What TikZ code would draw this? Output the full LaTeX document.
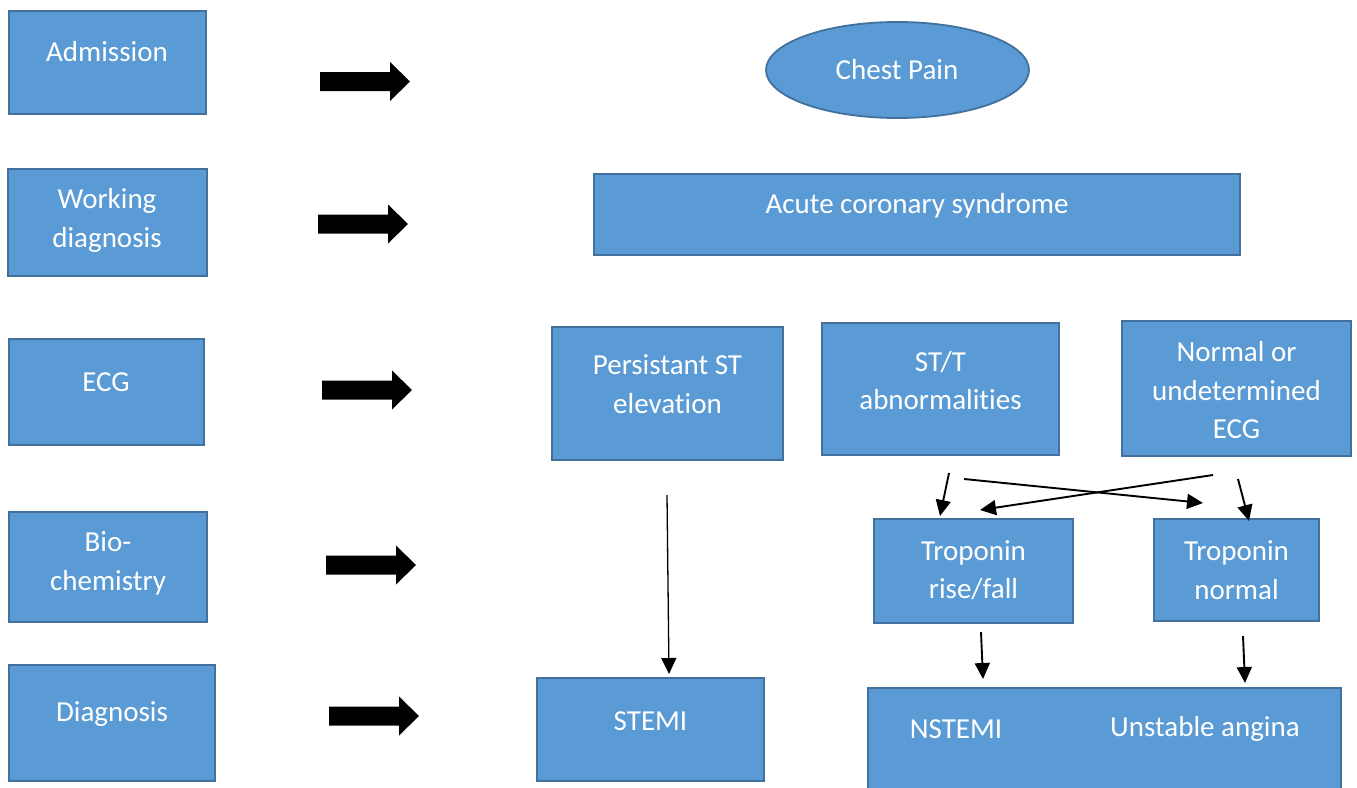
\documentclass[tikz,border=0pt]{standalone}
\usepackage{fontspec}
\setmainfont{Carlito}[RawFeature={-liga}]
\usetikzlibrary{arrows.meta,shapes.geometric}
\definecolor{boxfill}{HTML}{5B9BD5}
\definecolor{boxline}{HTML}{41719C}
\begin{document}
\begin{tikzpicture}[x=1pt,y=-1pt,
  box/.style={draw=boxline,fill=boxfill,line width=1.8pt,inner sep=0pt},
  txt/.style={text=white,font=\fontsize{29}{38.5}\selectfont,align=center,inner sep=0pt},
  thin/.style={line width=1.9pt,-{Triangle[length=16pt,width=15pt]}},
  pics/blockarr/.style={code={\fill[black] (0,-9.5)--(70,-9.5)--(70,-19.5)--(90,0)--(70,19.5)--(70,9.5)--(0,9.5)--cycle;}}]
\clip (0,0) rectangle (1357,787);
\fill[white] (0,0) rectangle (1357,787);
% left column
\node[box,minimum width=197,minimum height=103] (adm) at (107.5,62.5) {};
\node[txt] (admt) at (107,52) {Admission};
\node[box,minimum width=199,minimum height=107] (wd) at (107.5,222.5) {};
\node[txt] (wdt) at (107,220.5) {Working\\diagnosis};
\node[box,minimum width=195,minimum height=106] (ecg) at (106.5,392) {};
\node[txt] (ecgt) at (106,382) {ECG};
\node[box,minimum width=198,minimum height=110] (bio) at (108,567) {};
\node[txt] (biot) at (108,563.5) {Bio-\\chemistry};
\node[box,minimum width=206,minimum height=116] (dia) at (112,723) {};
\node[txt] (diat) at (112,714) {Diagnosis};
% block arrows
\pic at (320,81.5) {blockarr};
\pic at (318,224) {blockarr};
\pic at (322,390) {blockarr};
\pic at (326,565) {blockarr};
\pic at (329,716) {blockarr};
% right side
\node[box,ellipse,minimum width=263,minimum height=96] (cp) at (897.5,70) {};
\node[txt] (cpt) at (897,70) {Chest Pain};
\node[box,minimum width=646,minimum height=81] (acs) at (917,214.5) {};
\node[txt] (acst) at (917,205.5) {Acute coronary syndrome};
\node[box,minimum width=231,minimum height=133] (pst) at (667.5,393.5) {};
\node[txt] (pstt) at (667.5,384) {Persistant ST\\elevation};
\node[box,minimum width=237,minimum height=132] (stt) at (940.5,389) {};
\node[txt] (sttt) at (940.5,380.5) {ST/T\\abnormalities};
\node[box,minimum width=229,minimum height=135] (nor) at (1236.5,388.5) {};
\node[txt] (nort) at (1236.5,390.5) {Normal or\\undetermined\\ECG};
\node[box,minimum width=199,minimum height=104] (trf) at (973.5,571) {};
\node[txt] (trft) at (973.5,570) {Troponin\\rise/fall};
\node[box,minimum width=165,minimum height=102] (tno) at (1236.5,570) {};
\node[txt] (tnot) at (1236.5,570) {Troponin\\normal};
\node[box,minimum width=227,minimum height=103] (stemi) at (650.5,729.5) {};
\node[txt] (stemit) at (650.5,721) {STEMI};
\node[box,minimum width=473,minimum height=110] (nst) at (1104.5,743) {};
\node[txt] (nstt) at (956,729) {NSTEMI};
\node[txt] (uat) at (1205,729) {Unstable angina};
% thin arrows
\coordinate (a1s) at (667,495); \coordinate (a1e) at (669,674);
\coordinate (a2s) at (949,473); \coordinate (a2e) at (940,516);
\coordinate (a3s) at (964,479); \coordinate (a3e) at (1203,503);
\coordinate (a4s) at (1213,475); \coordinate (a4e) at (980,510);
\coordinate (a5s) at (1238,479); \coordinate (a5e) at (1249,521);
\coordinate (a6s) at (981,632); \coordinate (a6e) at (983,679);
\coordinate (a7s) at (1243,636); \coordinate (a7e) at (1245,683);
\draw[thin,line width=1.3pt] (a1s) -- (a1e);
\draw[thin] (a2s) -- (a2e);
\draw[thin] (a3s) -- (a3e);
\draw[thin] (a4s) -- (a4e);
\draw[thin] (a5s) -- (a5e);
\draw[thin] (a6s) -- (a6e);
\draw[thin] (a7s) -- (a7e);
\end{tikzpicture}
\end{document}
